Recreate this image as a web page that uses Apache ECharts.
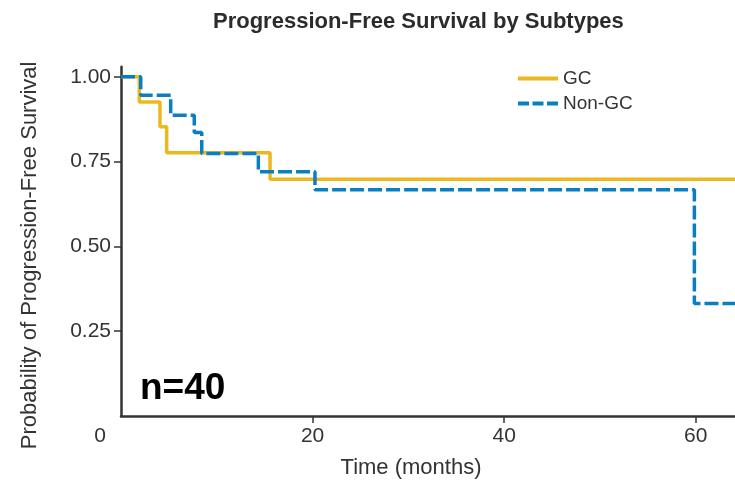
<!DOCTYPE html>
<html>
<head>
<meta charset="utf-8">
<script src="https://cdn.jsdelivr.net/npm/echarts@6/dist/echarts.min.js"></script>
<style>html,body{margin:0;padding:0;background:#fff;}#c{width:735px;height:485px;}</style>
</head>
<body>
<div id="c"></div>
<script>
// Data (Kaplan-Meier step curves)
const gcTime    = [0, 1.91, 4.07, 4.77, 15.56, 64.1];
const gcSurv    = [1.0, 0.926, 0.853, 0.776, 0.698, 0.698];
const nonGcTime = [0, 2.06, 5.19, 7.65, 8.43, 14.34, 20.25, 59.86, 64.1];
const nonGcSurv = [1.0, 0.946, 0.887, 0.836, 0.774, 0.720, 0.667, 0.332, 0.332];
const xTicks = [0, 20, 40, 60];
const xTickMarks = [20, 40, 60];
const yTicks = [0.25, 0.5, 0.75, 1.0];
const seriesNames = ['GC', 'Non-GC'];

const FONT = '"Liberation Sans", Arial, Helvetica, sans-serif';
const chart = echarts.init(document.getElementById('c'), null, {renderer: 'canvas'});
const pairs = (xs, ys) => xs.map((x, i) => [x, ys[i]]);

chart.setOption({
  animation: false,
  backgroundColor: '#ffffff',
  title: {
    text: 'Progression-Free Survival by Subtypes',
    left: 208,
    top: 6,
    textStyle: {fontFamily: FONT, fontSize: 22, fontWeight: 'bold', color: '#2b2b2b'}
  },
  legend: {
    orient: 'vertical',
    left: 513,
    top: 64,
    itemWidth: 40,
    itemHeight: 4,
    itemGap: 6,
    data: [
      {name: seriesNames[0], icon: 'path://M0,0h40v4h-40z'},
      {name: seriesNames[1], icon: 'path://M0,0h11v4h-11z M14.5,0h11v4h-11z M29,0h11v4h-11z'}
    ],
    textStyle: {fontFamily: FONT, fontSize: 19, color: '#333'}
  },
  grid: {left: 121, right: 0, top: 66.7, bottom: 69, containLabel: false},
  xAxis: {
    type: 'value',
    min: 0,
    max: 64.1,
    name: 'Time (months)',
    nameLocation: 'middle',
    nameGap: 41,
    nameTextStyle: {fontFamily: FONT, fontSize: 22, color: '#333', padding: [0, 34, 0, 0]},
    axisLine: {show: true, lineStyle: {color: '#333', width: 2.5}},
    axisTick: {show: true, length: 7, lineStyle: {color: '#333', width: 1.5}, customValues: xTickMarks},
    splitLine: {show: false},
    axisLabel: {
      customValues: xTicks,
      margin: 10,
      fontFamily: FONT, fontSize: 21, color: '#333',
      formatter: v => v === 0 ? '{z|0}' : String(v),
      rich: {z: {fontFamily: FONT, fontSize: 21, color: '#333', padding: [0, 42, 0, 0]}}
    }
  },
  yAxis: {
    type: 'value',
    min: 0,
    max: 1.03,
    name: 'Probability of Progression-Free Survival',
    nameLocation: 'middle',
    nameGap: 80,
    nameTextStyle: {fontFamily: FONT, fontSize: 22, color: '#333', padding: [0, 28, 0, 0]},
    axisLine: {show: true, lineStyle: {color: '#333', width: 2.5}},
    axisTick: {show: true, length: 7, lineStyle: {color: '#333', width: 1.5}, customValues: yTicks},
    splitLine: {show: false},
    axisLabel: {
      customValues: yTicks,
      margin: 10,
      fontFamily: FONT, fontSize: 21, color: '#333',
      formatter: v => v.toFixed(2)
    }
  },
  graphic: [{
    type: 'text',
    x: 140,
    y: 389,
    style: {text: 'n=40', font: 'bold 37px ' + FONT, fill: '#000', verticalAlign: 'middle'}
  }],
  series: [
    {
      name: seriesNames[0],
      type: 'line',
      step: 'end',
      symbol: 'none',
      color: '#EBB81F',
      lineStyle: {color: '#EBB81F', width: 3.5},
      data: pairs(gcTime, gcSurv),
      z: 2
    },
    {
      name: seriesNames[1],
      type: 'line',
      step: 'end',
      symbol: 'none',
      color: '#0A7EC2',
      lineStyle: {color: '#0A7EC2', width: 3.5, type: [14, 4]},
      data: pairs(nonGcTime, nonGcSurv),
      z: 3
    }
  ]
});
</script>
</body>
</html>
